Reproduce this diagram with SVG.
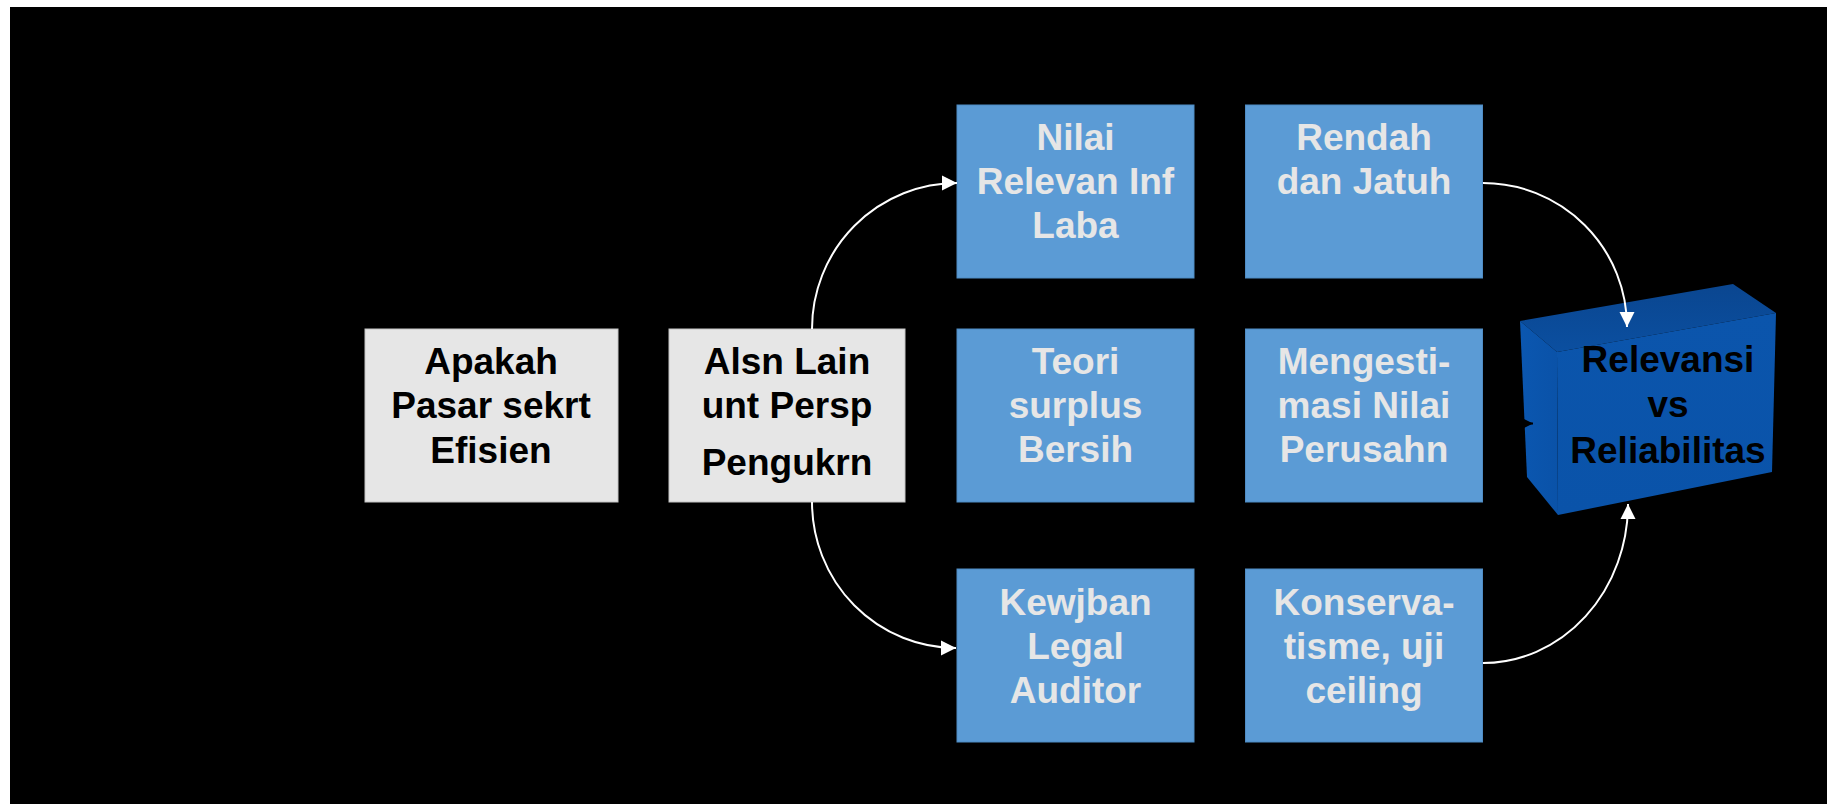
<svg xmlns="http://www.w3.org/2000/svg" width="1827" height="804" viewBox="0 0 1827 804">
<style>
.t{font-family:"Liberation Sans",Arial,sans-serif;font-weight:bold;font-size:37px;text-anchor:middle}
.gray rect{fill:#e6e6e6;stroke:#c4c4c4;stroke-width:1}
.gray text{fill:#000000}
.blue rect{fill:#5b9bd5;stroke:#4f8cc4;stroke-width:1}
.blue text{fill:#e6e6e6}
.conn path{fill:none;stroke:#ffffff;stroke-width:2}
</style>
<defs>
<marker id="ah" markerUnits="userSpaceOnUse" markerWidth="16" markerHeight="16" viewBox="0 0 16 16" refX="15" refY="8" orient="auto">
<path d="M0,0.5 L15,8 L0,15.5 z" fill="#ffffff"/>
</marker>
<marker id="ahk" markerUnits="userSpaceOnUse" markerWidth="12" markerHeight="12" viewBox="0 0 12 12" refX="11" refY="6" orient="auto">
<path d="M0,0.5 L11,6 L0,11.5 z" fill="#000000"/>
</marker>
<linearGradient id="gtop" x1="0" y1="0" x2="0" y2="1">
<stop offset="0" stop-color="#0a4690"/>
<stop offset="1" stop-color="#0b4fa0"/>
</linearGradient>
<linearGradient id="gleft" x1="0" y1="0" x2="1" y2="0">
<stop offset="0" stop-color="#0b57b0"/>
<stop offset="1" stop-color="#0a52a8"/>
</linearGradient>
<linearGradient id="gfront" x1="0" y1="0" x2="0" y2="1">
<stop offset="0" stop-color="#0b55ac"/>
<stop offset="1" stop-color="#0a53a9"/>
</linearGradient>
</defs>
<rect x="0" y="0" width="1827" height="804" fill="#ffffff"/>
<rect x="10" y="7" width="1817" height="797" fill="#000000"/>

<g id="node-apakah" class="gray">
<rect x="365" y="329" width="253" height="173"/>
<text class="t" x="491" y="374">Apakah</text>
<text class="t" x="491" y="418">Pasar sekrt</text>
<text class="t" x="491" y="463">Efisien</text>
</g>
<g id="node-alsn" class="gray">
<rect x="669" y="329" width="236" height="173"/>
<text class="t" x="787" y="374">Alsn Lain</text>
<text class="t" x="787" y="418">unt Persp</text>
<text class="t" x="787" y="475">Pengukrn</text>
</g>
<g id="node-nilai" class="blue">
<rect x="957" y="105" width="237" height="173"/>
<text class="t" x="1075.5" y="150">Nilai</text>
<text class="t" x="1075.5" y="194">Relevan Inf</text>
<text class="t" x="1075.5" y="238">Laba</text>
</g>
<g id="node-rendah" class="blue">
<rect x="1245.5" y="105" width="237" height="173"/>
<text class="t" x="1364" y="150">Rendah</text>
<text class="t" x="1364" y="194">dan Jatuh</text>
</g>
<g id="node-teori" class="blue">
<rect x="957" y="329" width="237" height="173"/>
<text class="t" x="1075.5" y="374">Teori</text>
<text class="t" x="1075.5" y="418">surplus</text>
<text class="t" x="1075.5" y="462">Bersih</text>
</g>
<g id="node-mengesti" class="blue">
<rect x="1245.5" y="329" width="237" height="173"/>
<text class="t" x="1364" y="374">Mengesti-</text>
<text class="t" x="1364" y="418">masi Nilai</text>
<text class="t" x="1364" y="462">Perusahn</text>
</g>
<g id="node-kewjban" class="blue">
<rect x="957" y="569" width="237" height="173"/>
<text class="t" x="1075.5" y="615">Kewjban</text>
<text class="t" x="1075.5" y="659">Legal</text>
<text class="t" x="1075.5" y="703">Auditor</text>
</g>
<g id="node-konserva" class="blue">
<rect x="1245.5" y="569" width="237" height="173"/>
<text class="t" x="1364" y="615">Konserva-</text>
<text class="t" x="1364" y="659">tisme, uji</text>
<text class="t" x="1364" y="703">ceiling</text>
</g>
<g id="node-relevansi">
<polygon points="1520,321 1733,284 1776,313 1557,352" fill="url(#gtop)"/>
<polygon points="1520,321 1557,352 1558,515 1527,477" fill="url(#gleft)"/>
<polygon points="1557,352 1776,313 1772,472 1558,515" fill="url(#gfront)"/>
<text class="t" x="1668" y="372" fill="#000000">Relevansi</text>
<text class="t" x="1668" y="417" fill="#000000">vs</text>
<text class="t" x="1668" y="463" fill="#000000">Reliabilitas</text>
</g>

<g id="connectors" class="conn">
<path d="M812,329 A145,146 0 0 1 957,183" marker-end="url(#ah)"/>
<path d="M812,502 A144,146 0 0 0 956,648" marker-end="url(#ah)"/>
<path d="M1483,183 A144,144 0 0 1 1627,327" marker-end="url(#ah)"/>
<path d="M1483,663 A145,159 0 0 0 1628,504" marker-end="url(#ah)"/>
<path d="M1483,423.5 L1533,423.5" style="stroke:#000000" marker-end="url(#ahk)"/>
</g>
</svg>
